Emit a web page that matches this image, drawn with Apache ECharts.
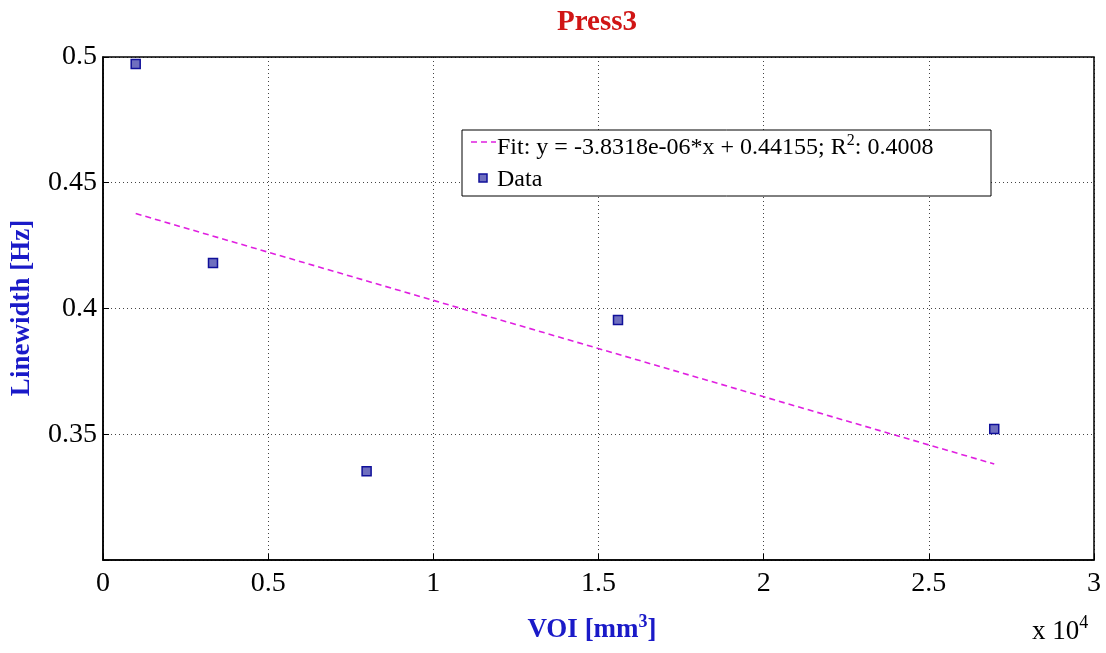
<!DOCTYPE html>
<html><head><meta charset="utf-8">
<script src="https://cdn.jsdelivr.net/npm/echarts@6/dist/echarts.min.js"></script>
<style>html,body{margin:0;padding:0;background:#fff}#c{width:1106px;height:653px}</style>
</head><body><div id="c"></div>
<script>
const voiData = [990, 3330, 7980, 15590, 26980];
const linewidthData = [0.4972, 0.4181, 0.3353, 0.3954, 0.3521];
const fitSlope = -3.8318e-06;
const fitIntercept = 0.44155;
const fitX = [990, 26980];
const xTicks = [0, 0.5, 1, 1.5, 2, 2.5, 3];
const yTicks = [0.35, 0.4, 0.45, 0.5];

const font = '"Liberation Serif", "Times New Roman", serif';
const chart = echarts.init(document.getElementById('c'));
const G = {left: 103, top: 57, width: 991, height: 503};
const LG = {x: 462, y: 130, w: 529, h: 66};
chart.setOption({
  animation: false,
  backgroundColor: '#fff',
  grid: {left: G.left, top: G.top, width: G.width, height: G.height},
  xAxis: {
    type: 'value', min: 0, max: 30000, interval: 5000,
    axisLine: {show: true, onZero: false, lineStyle: {color: '#000', width: 1.5}},
    axisTick: {show: true, inside: true, length: 6, lineStyle: {color: '#000'}},
    axisLabel: {fontFamily: font, fontSize: 28, color: '#000', margin: 10,
      formatter: v => { const t = v / 1e4; return xTicks.includes(t) ? String(t) : ''; }},
    splitLine: {show: true, lineStyle: {color: '#444', type: [1, 3], width: 1}}
  },
  yAxis: {
    type: 'value', min: 0.3, max: 0.5, interval: 0.05,
    axisLine: {show: true, onZero: false, lineStyle: {color: '#000', width: 1.5}},
    axisTick: {show: true, inside: true, length: 6, lineStyle: {color: '#000'}},
    axisLabel: {fontFamily: font, fontSize: 28, color: '#000', margin: 6,
      formatter: v => { const r = Math.round(v * 100) / 100; return yTicks.some(t => Math.abs(t - r) < 1e-9) ? String(r) : ''; }},
    splitLine: {show: true, lineStyle: {color: '#444', type: [1, 3], width: 1}}
  },
  graphic: [
    {type: 'rect', shape: {x: G.left, y: G.top, width: G.width, height: G.height}, style: {fill: 'none', stroke: '#000', lineWidth: 1.5}, silent: true, z: 5},
    {type: 'text', x: 597, y: 23, style: {text: 'Press3', fill: '#d01515', align: 'center', verticalAlign: 'middle', font: 'bold 29px ' + font}},
    {type: 'text', x: 592, y: 630, style: {
      text: '{b|VOI [mm}{s|3}{b|]}', align: 'center', verticalAlign: 'middle',
      rich: {b: {fontFamily: font, fontWeight: 'bold', fontSize: 27, fill: '#1a1ac8'},
             s: {fontFamily: font, fontWeight: 'bold', fontSize: 18, fill: '#1a1ac8', verticalAlign: 'top', padding: [0,0,16,0]}}}},
    {type: 'text', x: 1060, y: 632, style: {
      text: '{b|x 10}{s|4}', align: 'center', verticalAlign: 'middle',
      rich: {b: {fontFamily: font, fontSize: 27, fill: '#000'},
             s: {fontFamily: font, fontSize: 18, fill: '#000', verticalAlign: 'top', padding: [0,0,18,0]}}}},
    {type: 'text', x: 22, y: 308, rotation: Math.PI / 2, style: {
      text: 'Linewidth [Hz]', fill: '#1a1ac8', align: 'center', verticalAlign: 'middle',
      font: 'bold 27px ' + font}},
    {type: 'rect', shape: {x: LG.x, y: LG.y, width: LG.w, height: LG.h}, style: {fill: '#fff', stroke: '#000', lineWidth: 1}, z: 10},
    {type: 'line', shape: {x1: LG.x + 9, y1: LG.y + 12, x2: LG.x + 34, y2: LG.y + 12}, style: {stroke: '#e020e0', lineWidth: 1.6, lineDash: [6, 4]}, z: 11},
    {type: 'rect', shape: {x: LG.x + 17, y: LG.y + 44, width: 8, height: 8}, style: {fill: '#6f6fbf', stroke: '#10109a', lineWidth: 1.5}, z: 11},
    {type: 'text', x: LG.x + 35, y: LG.y + 18, z: 11, style: {
      text: '{n|Fit: y = -3.8318e-06*x + 0.44155; R}{sup|2}{n|: 0.4008}', verticalAlign: 'middle',
      rich: {n: {fontFamily: font, fontSize: 24, fill: '#000'},
             sup: {fontFamily: font, fontSize: 16, fill: '#000', verticalAlign: 'top', padding: [0,0,14,0]}}}},
    {type: 'text', x: LG.x + 35, y: LG.y + 50, z: 11, style: {
      text: 'Data', verticalAlign: 'middle', font: '24px ' + font, fill: '#000'}}
  ],
  series: [
    {name: 'Fit', type: 'line', symbol: 'none', silent: true,
      data: fitX.map(x => [x, fitIntercept + fitSlope * x]),
      lineStyle: {color: '#e020e0', type: [6, 4], width: 1.6}, z: 3},
    {name: 'Data', type: 'scatter', symbol: 'rect', symbolSize: 9,
      data: voiData.map((x, i) => [x, linewidthData[i]]),
      itemStyle: {color: '#6f6fbf', borderColor: '#10109a', borderWidth: 1.5, opacity: 1}, z: 4}
  ]
});
</script></body></html>
